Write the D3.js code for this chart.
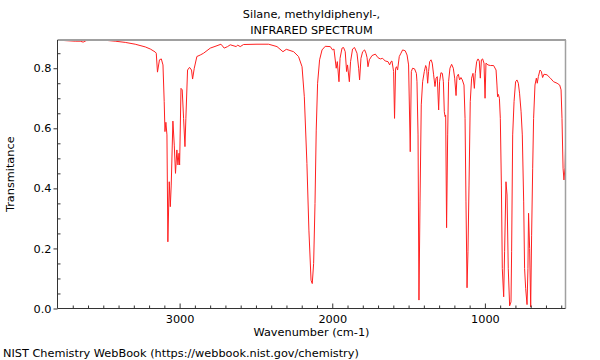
<!DOCTYPE html>
<html>
<head>
<meta charset="utf-8">
<script src="https://cdn.jsdelivr.net/npm/d3@7"></script>
<style>
  html, body { margin: 0; padding: 0; background: #fff; }
  svg { display: block; font-family: "DejaVu Sans", sans-serif; }
</style>
</head>
<body>
<svg id="chart" width="600" height="360"></svg>
<script>
const titleLines = ["Silane, methyldiphenyl-,", "INFRARED SPECTRUM"];
const xLabel = "Wavenumber (cm-1)";
const yLabel = "Transmitance";
const footer = "NIST Chemistry WebBook (https://webbook.nist.gov/chemistry)";

const xMajorTicks = [3000, 2000, 1000];
const xMinorTicks = [3700,3600,3500,3400,3300,3200,3100,2900,2800,2700,2600,2500,2400,2300,2200,2100,1900,1800,1700,1600,1500,1400,1300,1200,1100,900,800,700,600,500];
const yMajorTicks = [0.0, 0.2, 0.4, 0.6, 0.8];
const yMinorTicks = [0.05,0.1,0.15,0.25,0.3,0.35,0.45,0.5,0.55,0.65,0.7,0.75,0.85];

const xDomain = [3800, 472];
const yDomain = [0, 0.894];

const wavenumber = [
3800,3750,3684,3651,3632,3612,3553,3487,3422,3356,3291,3225,3192,3160,3153,3145,3132,3120,3109,3101,
3096,3090,3083,3077,3068,3061,3055,3044,3035,3027,3018,3011,3004,3000,2991,2983,2974,2965,2959,2948,
2935,2922,2915,2904,2887,2865,2843,2799,2755,2729,2708,2686,2668,2629,2620,2603,2581,2493,2417,2362,
2323,2301,2253,2221,2198,2183,2166,2153,2139,2131,2122,2113,2105,2096,2083,2067,2046,2013,1998,1989,
1974,1967,1956,1949,1936,1926,1915,1906,1900,1888,1880,1867,1854,1838,1827,1821,1812,1801,1788,1779,
1772,1766,1757,1740,1718,1700,1685,1670,1653,1635,1624,1615,1609,1598,1592,1585,1579,1572,1561,1550,
1539,1522,1510,1500,1489,1482,1474,1461,1449,1445,1438,1432,1425,1417,1408,1397,1388,1382,1375,1369,
1362,1353,1345,1336,1327,1320,1312,1303,1297,1288,1279,1272,1266,1261,1257,1251,1244,1238,1229,1218,
1207,1198,1189,1183,1174,1166,1157,1148,1137,1130,1124,1117,1111,1104,1096,1087,1078,1069,1063,1054,
1045,1037,1030,1023,1015,1006,999,993,980,964,943,927,921,917,912,905,899,892,886,877,
871,862,855,847,838,829,825,818,809,799,790,781,773,763,755,746,740,733,724,718,
714,707,700,694,687,681,672,663,657,650,639,630,622,613,593,571,550,527,510,501,
495,488,482,475,472
];
const transmittance = [
0.894,0.892,0.890,0.890,0.887,0.892,0.893,0.893,0.890,0.886,0.880,0.871,0.864,0.854,0.850,0.787,0.828,0.831,0.811,0.689,
0.589,0.620,0.578,0.222,0.422,0.339,0.411,0.624,0.544,0.450,0.528,0.478,0.517,0.478,0.733,0.728,0.633,0.539,0.633,0.794,
0.803,0.794,0.764,0.800,0.839,0.844,0.850,0.867,0.875,0.880,0.867,0.872,0.878,0.872,0.877,0.872,0.879,0.880,0.880,0.872,
0.855,0.863,0.855,0.839,0.805,0.705,0.483,0.261,0.094,0.083,0.150,0.350,0.594,0.750,0.828,0.861,0.873,0.872,0.861,0.864,
0.800,0.822,0.755,0.833,0.867,0.869,0.855,0.789,0.811,0.755,0.822,0.864,0.869,0.850,0.800,0.761,0.833,0.855,0.861,0.850,
0.835,0.805,0.828,0.842,0.847,0.835,0.831,0.833,0.824,0.822,0.811,0.822,0.824,0.789,0.633,0.800,0.805,0.794,0.839,0.850,
0.861,0.858,0.844,0.811,0.522,0.789,0.800,0.798,0.783,0.755,0.578,0.028,0.355,0.678,0.755,0.789,0.809,0.800,0.750,0.789,
0.822,0.828,0.817,0.778,0.739,0.767,0.772,0.661,0.755,0.785,0.783,0.755,0.655,0.639,0.644,0.269,0.578,0.755,0.800,0.813,
0.800,0.767,0.709,0.772,0.780,0.761,0.769,0.761,0.744,0.633,0.355,0.069,0.189,0.411,0.689,0.767,0.783,0.733,0.783,0.822,
0.831,0.824,0.767,0.828,0.831,0.817,0.700,0.817,0.811,0.809,0.809,0.794,0.744,0.705,0.713,0.700,0.633,0.411,0.133,0.039,
0.189,0.422,0.378,0.133,0.009,0.022,0.189,0.578,0.689,0.755,0.761,0.750,0.717,0.655,0.578,0.355,0.133,0.067,0.013,0.133,
0.317,0.200,0.005,0.244,0.467,0.633,0.744,0.767,0.750,0.772,0.794,0.789,0.769,0.780,0.778,0.767,0.755,0.750,0.744,0.728,
0.633,0.467,0.428,0.470,0.534
];

const mLeft = 57.5, mRight = 565.5, mTop = 40, mBottom = 308.5;
const fontSize = "11.3px";
const svg = d3.select("#chart");

const x = d3.scaleLinear().domain(xDomain).range([mLeft, mRight]);
const y = d3.scaleLinear().domain(yDomain).range([mBottom, mTop]);

svg.append("defs").append("clipPath").attr("id", "plotclip")
  .append("rect").attr("x", mLeft).attr("y", mTop).attr("width", mRight - mLeft).attr("height", mBottom - mTop);

const pts = wavenumber.map((w, i) => [w, transmittance[i]]);
svg.append("path")
  .datum(pts)
  .attr("clip-path", "url(#plotclip)")
  .attr("fill", "none")
  .attr("stroke", "#ff2020")
  .attr("stroke-width", 1)
  .attr("stroke-linejoin", "round")
  .attr("d", d3.line().x(d => x(d[0])).y(d => y(d[1])));

svg.append("line").attr("x1", mLeft).attr("x2", mRight + 0.5).attr("y1", mTop).attr("y2", mTop)
  .attr("stroke", "#a0a0a0").attr("stroke-width", 2);
svg.append("line").attr("x1", mRight).attr("x2", mRight).attr("y1", mTop).attr("y2", mBottom)
  .attr("stroke", "#a0a0a0").attr("stroke-width", 1.5);

const axisColor = "#333";

const gx = svg.append("g").attr("transform", `translate(0,${mBottom})`)
  .call(d3.axisBottom(x).tickValues(xMajorTicks).tickSize(-5).tickPadding(6).tickFormat(d3.format("d")));
const gxm = svg.append("g").attr("transform", `translate(0,${mBottom})`)
  .call(d3.axisBottom(x).tickValues(xMinorTicks).tickSize(-3).tickFormat(""));
gxm.select(".domain").remove();

const gy = svg.append("g").attr("transform", `translate(${mLeft},0)`)
  .call(d3.axisLeft(y).tickValues(yMajorTicks).tickSize(4).tickPadding(2).tickFormat(d3.format(".1f")));
const gym = svg.append("g").attr("transform", `translate(${mLeft},0)`)
  .call(d3.axisLeft(y).tickValues(yMinorTicks).tickSize(-3).tickFormat(""));
gym.select(".domain").remove();

[gx, gxm, gy, gym].forEach(g => {
  g.selectAll("path.domain").attr("stroke", axisColor).attr("stroke-width", 1);
  g.selectAll(".tick line").attr("stroke", axisColor).attr("stroke-width", 1);
  g.selectAll(".tick text").attr("fill", "#000").style("font-size", fontSize).style("font-family", "DejaVu Sans, sans-serif");
});
gx.select(".domain").attr("d", `M${mLeft},0H${mRight}`);
gy.select(".domain").remove();
svg.append("line").attr("x1", mLeft).attr("x2", mLeft).attr("y1", mTop).attr("y2", mBottom)
  .attr("stroke", axisColor).attr("stroke-width", 1);

svg.append("text").attr("x", (mLeft + mRight) / 2).attr("y", 18).attr("text-anchor", "middle")
  .style("font-size", fontSize).text(titleLines[0]);
svg.append("text").attr("x", (mLeft + mRight) / 2).attr("y", 34).attr("text-anchor", "middle")
  .style("font-size", fontSize).text(titleLines[1]);

svg.append("text").attr("x", (mLeft + mRight) / 2).attr("y", 336).attr("text-anchor", "middle")
  .style("font-size", fontSize).text(xLabel);

svg.append("text").attr("transform", `translate(14,${(mTop + mBottom) / 2}) rotate(-90)`)
  .attr("text-anchor", "middle").style("font-size", fontSize).text(yLabel);

svg.append("text").attr("x", 3).attr("y", 357).style("font-size", fontSize).text(footer);
</script>
</body>
</html>
